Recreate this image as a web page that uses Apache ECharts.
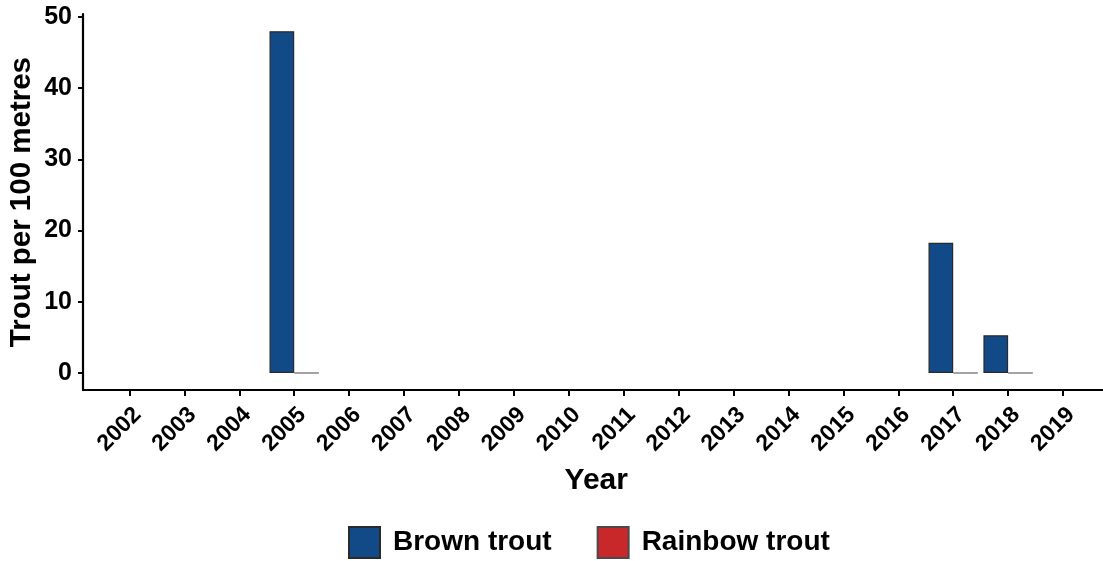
<!DOCTYPE html>
<html><head><meta charset="utf-8">
<script src="https://cdn.jsdelivr.net/npm/echarts@6/dist/echarts.min.js"></script>
<style>html,body{margin:0;padding:0;background:#fff}#c{width:1103px;height:561px}</style>
</head><body><div id="c"></div>
<script>
const years = ['2002','2003','2004','2005','2006','2007','2008','2009','2010','2011','2012','2013','2014','2015','2016','2017','2018','2019'];
const brownTrout = [null,null,null,48.0,null,null,null,null,null,null,null,null,null,null,null,18.3,5.3,null];
const rainbowTrout = [null,null,null,0,null,null,null,null,null,null,null,null,null,null,null,0,0,null];
const yTicks = [0,10,20,30,40,50];
const yMin = -2.4, yMax = 50.4;

const font = '"Liberation Sans", Arial, sans-serif';
const chart = echarts.init(document.getElementById('c'), null, {renderer:'canvas'});
const gridTop = 14.1, gridBottom = 170.9;
chart.setOption({
  animation: false,
  backgroundColor: '#fff',
  textStyle: {fontFamily: font},
  grid: [
    {left: 102, right: 12.5, top: gridTop, bottom: gridBottom, containLabel: false, outerBoundsMode: 'none'},
    {left: 83, right: 0, top: gridTop, bottom: gridBottom, containLabel: false, outerBoundsMode: 'none'}
  ],
  legend: {
    left: 348, top: 526, padding: 0,
    itemWidth: 31, itemHeight: 31, itemGap: 45,
    icon: 'rect',
    textStyle: {fontSize: 28, fontWeight: 'bold', color: '#000', fontFamily: font, padding: [0,0,0,8]},
    data: ['Brown trout', 'Rainbow trout']
  },
  xAxis: [
    {
      type: 'category', gridIndex: 0, data: years,
      axisLine: {show: false, onZero: false},
      axisTick: {show: true, alignWithLabel: true, length: 6, lineStyle: {color: '#000', width: 2}},
      axisLabel: {rotate: 45, interval: 0, fontSize: 23, fontWeight: 'bold', color: '#000', margin: 13, align: 'right', verticalAlign: 'top', fontFamily: font},
      splitLine: {show: false},
      name: 'Year', nameLocation: 'middle', nameGap: 76, nameMoveOverlap: false,
      nameTextStyle: {fontSize: 30, fontWeight: 'bold', color: '#000', fontFamily: font}
    },
    {
      type: 'value', gridIndex: 1, min: 0, max: 1,
      axisLine: {show: true, onZero: false, lineStyle: {color: '#000', width: 2.2}},
      axisTick: {show: false}, axisLabel: {show: false}, splitLine: {show: false}
    }
  ],
  yAxis: [
    {type: 'value', gridIndex: 0, min: yMin, max: yMax, show: false, splitLine: {show: false}},
    {
      type: 'value', gridIndex: 1, min: yMin, max: yMax,
      axisLine: {show: true, onZero: false, lineStyle: {color: '#000', width: 2.2}},
      axisTick: {show: true, length: 5, customValues: yTicks, lineStyle: {color: '#000', width: 2}},
      axisLabel: {customValues: yTicks, fontSize: 25, fontWeight: 'bold', color: '#000', margin: 11, fontFamily: font},
      splitLine: {show: false},
      name: 'Trout per 100 metres', nameLocation: 'middle', nameGap: 46, nameMoveOverlap: false,
      nameTextStyle: {fontSize: 29.5, fontWeight: 'bold', color: '#000', fontFamily: font}
    }
  ],
  series: [
    {
      name: 'Brown trout', type: 'bar', xAxisIndex: 0, yAxisIndex: 0,
      data: brownTrout, barWidth: '45%', barGap: '0%',
      itemStyle: {color: '#124a87', borderColor: '#2a2a2a', borderWidth: 1.2}
    },
    {
      name: 'Rainbow trout', type: 'bar', xAxisIndex: 0, yAxisIndex: 0,
      data: rainbowTrout, barWidth: '45%', barGap: '0%',
      itemStyle: {color: '#c8282a', borderColor: '#4a4a4a', borderWidth: 1.2}
    }
  ]
});
</script></body></html>
